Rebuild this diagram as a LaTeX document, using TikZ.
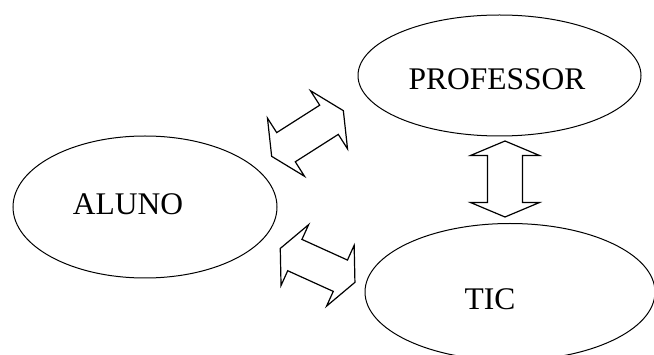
\documentclass[tikz,border=0pt]{standalone}
\usepackage{fontspec}
\setmainfont{Liberation Serif}
\usetikzlibrary{shapes.geometric}
\tikzset{
  oval/.style={ellipse, draw=black, line width=1pt, inner sep=0pt},
  lbl/.style={inner sep=0pt, font=\fontsize{31.5}{36}\selectfont},
  blockarrow/.style={draw=black, line width=1.2pt, line join=miter, fill=white}
}
\newcommand{\dblarrow}[4]{% L, h, w, W
  \path[blockarrow] (-#1,0) -- (-#1+#2,#4) -- (-#1+#2,#3) -- (#1-#2,#3) -- (#1-#2,#4) -- (#1,0)
    -- (#1-#2,-#4) -- (#1-#2,-#3) -- (-#1+#2,-#3) -- (-#1+#2,-#4) -- cycle;}
\begin{document}
\begin{tikzpicture}[x=1pt,y=-1pt]
\clip (0,0) rectangle (654,355);
\fill[white] (0,0) rectangle (654,355);
% ellipses
\node[oval, minimum width=264pt, minimum height=142pt] (aluno) at (145,207) {};
\node[oval, minimum width=283pt, minimum height=121pt] (prof) at (499.5,75.5) {};
\node[oval, minimum width=290pt, minimum height=137pt] (tic) at (510,292) {};
% labels
\node[lbl] (alunot) at (128,204) {ALUNO};
\node[lbl] (proft) at (497,79) {PROFESSOR};
\node[lbl] (tict) at (490,299) {TIC};
% block double arrows
\begin{scope}[shift={(307.5,133.5)}, rotate=32.5]
  \dblarrow{42.5}{17}{17.3}{34.5}
\end{scope}
\begin{scope}[shift={(317.6,265.4)}, rotate=-24.4]
  \dblarrow{41}{16}{17.2}{33.4}
\end{scope}
\begin{scope}[shift={(505,179)}, rotate=90]
  \dblarrow{38}{14.5}{17.5}{34.5}
\end{scope}
\end{tikzpicture}
\end{document}
